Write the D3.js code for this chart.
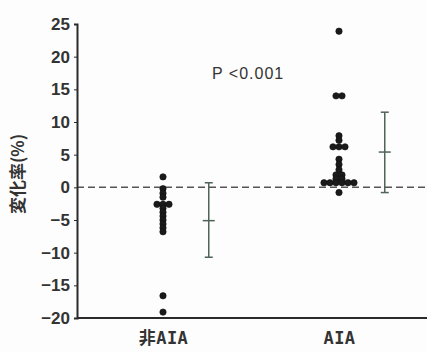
<!DOCTYPE html>
<html><head><meta charset="utf-8">
<script src="https://cdn.jsdelivr.net/npm/d3@7"></script>
<style>body{margin:0;background:#fff}svg{display:block}</style>
</head><body>
<script>
const categories = ["非AIA", "AIA"];
const nonAIA = [1.6, -0.2, -0.9, -1.5, -2.6, -2.6, -2.6, -3.2, -3.8, -4.4, -5.0, -5.6, -6.2, -6.8, -16.6, -19.1];
const aia = [23.9, 14.0, 14.0, 7.9, 7.2, 6.2, 6.2, 6.2, 4.3, 3.5, 2.7, 1.9, 1.9, 1.3, 1.3, 0.7, 0.7, 0.7, 0.7, 0.7, 0.7, -0.8];
const means = [-5.1, 5.4];
const lower = [-10.7, -0.8];
const upper = [0.7, 11.5];
const yTicks = [25, 20, 15, 10, 5, 0, -5, -10, -15, -20];
const yLabel = "変化率(%)";
const pLabel = "P <0.001";

const W = 427, H = 352;
const svg = d3.select("body").append("svg").attr("width", W).attr("height", H);
svg.append("rect").attr("width", W).attr("height", H).attr("fill", "#fdfdfd");

const y = d3.scaleLinear().domain([-20, 25]).range([318, 24]);
const x = d3.scalePoint().domain(categories).range([75, 427]).padding(0.5);
const axX = 77;
const ink = "#2a2a2a";

// zero dashed line
svg.append("line").attr("x1", axX).attr("x2", W).attr("y1", y(0)).attr("y2", y(0))
  .attr("stroke", "#555").attr("stroke-width", 1.5).attr("stroke-dasharray", "7,4");

// y axis
const yAxis = d3.axisLeft(y).tickValues(yTicks).tickSize(3).tickPadding(4).tickFormat(d => d < 0 ? "\u2212" + Math.abs(d) : d);
const gy = svg.append("g").attr("transform", `translate(${axX},0)`).call(yAxis);
gy.select(".domain").attr("stroke", ink).attr("stroke-width", 2);
gy.selectAll(".tick line").attr("stroke", ink);
gy.selectAll("text").attr("font-family", "Liberation Sans, Arial, sans-serif").attr("font-size", 17)
  .attr("font-weight", "bold").attr("fill", "#333");

// x axis
const xAxis = d3.axisBottom(x).tickSize(0).tickPadding(14);
const gx = svg.append("g").attr("transform", `translate(0,${y(-20)})`).call(xAxis);
gx.select(".domain").attr("stroke", ink).attr("stroke-width", 2).attr("d", `M${axX},0H${W}`);
gx.selectAll("text").attr("font-family", "DejaVu Sans Mono, Noto Sans CJK JP, monospace").attr("font-size", 17)
  .attr("font-weight", "bold").attr("fill", "#333").attr("letter-spacing", 0.5);

// y label
svg.append("text").attr("transform", `translate(24,174) rotate(-90)`).attr("text-anchor", "middle")
  .attr("font-family", "Noto Sans CJK JP, sans-serif").attr("font-size", 17).attr("font-weight", "bold")
  .attr("fill", "#333").text(yLabel);

// p label
svg.append("text").attr("x", 212).attr("y", 79).attr("font-family", "Liberation Sans, Arial, sans-serif")
  .attr("font-size", 16).attr("letter-spacing", 1).attr("fill", "#333").text(pLabel);

// dot rows: equal values sit side by side, centred on the category
const r = 3.2, dx = 6;
function rows(vals, cx) {
  const pts = [];
  d3.group(vals, v => v).forEach((arr, v) => {
    arr.forEach((_, j) => pts.push({v, px: cx + (j - (arr.length - 1) / 2) * dx, py: y(v)}));
  });
  return pts;
}
[nonAIA, aia].forEach((vals, i) => {
  const pts = rows(vals, x(categories[i]));
  svg.append("g").selectAll("circle").data(pts).join("circle")
    .attr("cx", d => d.px).attr("cy", d => d.py).attr("r", r)
    .attr("fill", "#1a1a1a").attr("stroke", "#111").attr("stroke-width", 0.6);
});

// error bars
const ebCol = "#4f6359";
const off = x.step() * 0.26;
categories.forEach((c, i) => {
  const cx = x(c) + off;
  const g = svg.append("g").attr("stroke", ebCol).attr("stroke-width", 1.5);
  g.append("line").attr("x1", cx).attr("x2", cx).attr("y1", y(upper[i])).attr("y2", y(lower[i]));
  [upper[i], lower[i]].forEach(v => g.append("line").attr("x1", cx - 4).attr("x2", cx + 4).attr("y1", y(v)).attr("y2", y(v)));
  g.append("line").attr("x1", cx - 6).attr("x2", cx + 6).attr("y1", y(means[i])).attr("y2", y(means[i]));
});
</script>
</body></html>
